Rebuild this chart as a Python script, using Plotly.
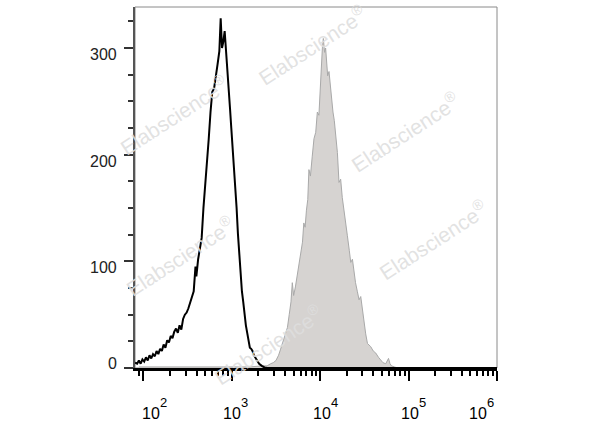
import plotly.graph_objects as go

# ---- data ----
# isotype / control histogram (black outline), x in log10(fluorescence)
black_log_x = [1.906, 1.93, 1.95, 1.97, 1.99, 2.01, 2.03, 2.05, 2.07, 2.09, 2.11, 2.13, 2.15,
               2.17, 2.19, 2.21, 2.23, 2.25, 2.27, 2.29, 2.31, 2.33, 2.35, 2.37, 2.39, 2.41,
               2.43, 2.45, 2.47, 2.49, 2.51, 2.53, 2.55, 2.57, 2.59, 2.60, 2.62, 2.64, 2.66,
               2.68, 2.70, 2.72, 2.74, 2.76, 2.78, 2.80, 2.82, 2.84, 2.86, 2.875, 2.89, 2.905,
               2.92, 2.935, 2.95, 2.965, 2.98, 2.995, 3.01, 3.025, 3.04, 3.055, 3.07, 3.085,
               3.10, 3.115, 3.13, 3.145, 3.16, 3.175, 3.19, 3.205, 3.22, 3.235, 3.25, 3.27,
               3.29, 3.31, 3.34, 3.37, 3.40, 3.6, 4.0, 4.5, 5.0, 5.5, 6.0]
black_counts = [5, 4, 7, 4, 8, 6, 10, 7, 12, 9, 13, 11, 16,
                13, 18, 16, 22, 19, 26, 24, 30, 28, 34, 37, 33, 40,
                36, 46, 50, 52, 56, 62, 66, 72, 95, 86, 102, 112, 122,
                150, 170, 192, 215, 240, 259, 262, 272, 285, 297, 328, 300, 306,
                316, 295, 280, 262, 244, 225, 208, 192, 172, 150, 126, 105,
                86, 72, 62, 48, 40, 33, 24, 19, 18, 16, 12, 9,
                6, 4, 2, 0.5, 0, 0, 0, 0, 0, 0, 0]

# stained sample histogram (grey filled)
grey_log_x = [1.95, 2.2, 2.6, 3.0, 3.2, 3.35, 3.40, 3.44, 3.47, 3.50, 3.53, 3.55, 3.58,
              3.61, 3.63, 3.65, 3.67, 3.685, 3.70, 3.72, 3.74, 3.76, 3.78, 3.80, 3.815,
              3.83, 3.845, 3.86, 3.873, 3.89, 3.91, 3.93, 3.95, 3.968, 3.986, 4.00, 4.014,
              4.025, 4.036, 4.05, 4.062, 4.075, 4.085, 4.10, 4.115, 4.13, 4.145, 4.16,
              4.18, 4.195, 4.213, 4.232, 4.25, 4.27, 4.29, 4.308, 4.33, 4.346, 4.365,
              4.38, 4.40, 4.42, 4.44, 4.459, 4.48, 4.496, 4.515, 4.535, 4.555, 4.572,
              4.60, 4.629, 4.66, 4.686, 4.71, 4.742, 4.773, 4.79, 4.807, 4.84, 4.875, 5.0]
grey_counts = [1, 1, 1, 1.5, 1, 2, 2, 4, 5, 7, 12, 17, 25,
               32, 38, 50, 62, 80, 68, 76, 86, 96, 105, 118, 136,
               132, 148, 158, 186, 180, 198, 215, 221, 240, 237, 262, 293,
               300, 309, 296, 300, 282, 274, 278, 264, 255, 240, 232,
               218, 202, 174, 177, 160, 149, 138, 124, 110, 99, 102,
               92, 80, 72, 64, 67, 52, 42, 32, 23, 21, 20,
               16, 14, 10, 7, 5, 4, 9, 4, 2, 1, 0, 0]

x_tick_exponents = [2, 3, 4, 5, 6]
x_tick_mantissa = ["10", "10", "10", "10", "10"]
x_tick_powers = ["2", "3", "4", "5", "6"]
y_tick_values = [0, 100, 200, 300]
y_tick_labels = ["0", "100", "200", "300"]
watermark_text = "Elabscience"

# ---- styling ----
FONT = "Liberation Sans, Arial, sans-serif"
x_label_left = [0, -8, -6.3, -7, -26.7]      # px offset of label's left edge from its tick
y_label_shift = [5, -6, -7, -6]
watermark_pos = [(0.108, 0.70), (0.49, 0.895), (0.125, 0.31), (0.746, 0.654),
                 (0.823, 0.355), (0.367, 0.064)]

fig = go.Figure()

fig.add_trace(go.Scatter(
    x=[10 ** v for v in grey_log_x], y=grey_counts, mode="lines",
    line=dict(color="#a9a9a9", width=1), fill="tozeroy", fillcolor="#d6d3d1",
    hoverinfo="skip", showlegend=False))

fig.add_trace(go.Scatter(
    x=[10 ** v for v in black_log_x], y=black_counts, mode="lines",
    line=dict(color="#000000", width=2), hoverinfo="skip", showlegend=False))

annotations = []
for i, (e, m, p) in enumerate(zip(x_tick_exponents, x_tick_mantissa, x_tick_powers)):
    annotations.append(dict(
        x=e, xref="x", y=0, yref="paper", yanchor="middle", xanchor="left",
        xshift=x_label_left[i] - 3, yshift=-45, showarrow=False, text=m,
        font=dict(family=FONT, size=16, color="#000000")))
    annotations.append(dict(
        x=e, xref="x", y=0, yref="paper", yanchor="middle", xanchor="left",
        xshift=x_label_left[i] + 15, yshift=-34, showarrow=False, text=p,
        font=dict(family=FONT, size=13, color="#000000")))
for v, t, s in zip(y_tick_values, y_tick_labels, y_label_shift):
    annotations.append(dict(
        x=0, xref="paper", y=v, yref="y", xanchor="right", yanchor="middle",
        xshift=-16, yshift=s, showarrow=False, text=t,
        font=dict(family=FONT, size=16, color="#222222")))
for (wx, wy) in watermark_pos:
    annotations.append(dict(
        x=wx, y=wy, xref="paper", yref="paper", xanchor="center", yanchor="middle",
        showarrow=False, textangle=-33,
        text=watermark_text + "<sup>®</sup>",
        font=dict(family=FONT, size=21, color="rgba(222,222,222,0.9)")))

fig.update_layout(
    width=600, height=427,
    margin=dict(l=135, r=103, t=7, b=59),
    paper_bgcolor="white", plot_bgcolor="white",
    showlegend=False,
    annotations=annotations,
    shapes=[dict(type="rect", xref="paper", yref="paper", x0=0, x1=1, y0=0, y1=1,
                 line=dict(color="#8a8a8a", width=1), layer="below")],
    xaxis=dict(
        type="log", range=[1.906, 6.0], dtick=1, showgrid=False, zeroline=False,
        showticklabels=False, showline=True, linecolor="#000000", linewidth=2.5,
        ticks="outside", ticklen=10, tickwidth=2, tickcolor="#000000",
        minor=dict(ticks="outside", dtick="D1", ticklen=5, tickwidth=1.5,
                   tickcolor="#000000", showgrid=False)),
    yaxis=dict(
        range=[0, 338.5], dtick=100, showgrid=False, zeroline=False,
        showticklabels=False, showline=True, linecolor="#555555", linewidth=1.5,
        ticks="outside", ticklen=9, tickwidth=2, tickcolor="#333333",
        minor=dict(ticks="outside", dtick=25, ticklen=5, tickwidth=1.5,
                   tickcolor="#333333", showgrid=False)),
)

fig.write_html("out.html", config={"displayModeBar": False})

# remove the browser's default body margin so the figure sits at the page origin
with open("out.html", "r", encoding="utf-8") as fh:
    html = fh.read()
html = html.replace("<body>", '<body style="margin:0;padding:0;">', 1)
with open("out.html", "w", encoding="utf-8") as fh:
    fh.write(html)
